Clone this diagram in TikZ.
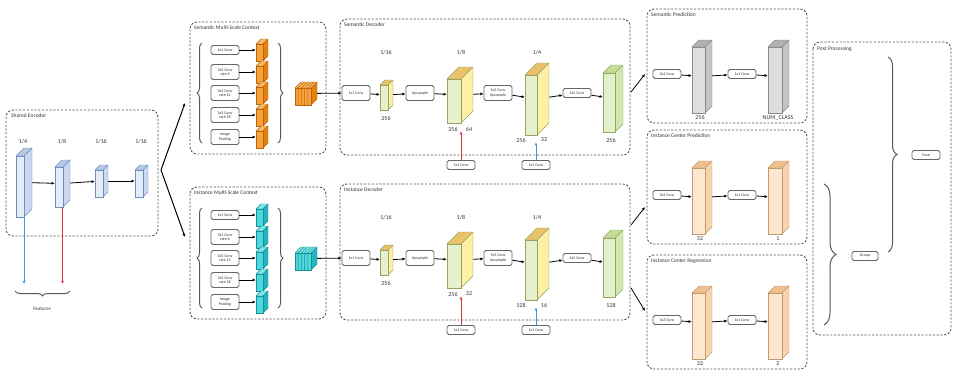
\documentclass[tikz,border=0pt]{standalone}
\usepackage{fontspec}
\setmainfont{Carlito}
\usetikzlibrary{arrows.meta,decorations.pathreplacing,fit,calc}

% colour sets for the feature-map slabs: F front, S side, T top, E edge
\definecolor{encF}{HTML}{E4ECF7}\definecolor{encS}{HTML}{C9D8EE}\definecolor{encT}{HTML}{B7C9E3}\definecolor{encE}{HTML}{6F8FBF}
\definecolor{orgF}{HTML}{F7A23C}\definecolor{orgS}{HTML}{E4820E}\definecolor{orgT}{HTML}{F9B865}\definecolor{orgE}{HTML}{B9650A}
\definecolor{cynF}{HTML}{4DD8DE}\definecolor{cynS}{HTML}{22B5BD}\definecolor{cynT}{HTML}{7EE6EA}\definecolor{cynE}{HTML}{178F96}
\definecolor{decF}{HTML}{E5F2CD}\definecolor{decS}{HTML}{FBF0A4}\definecolor{decT}{HTML}{E9C26A}\definecolor{decE}{HTML}{9AA064}
\definecolor{finF}{HTML}{E3F1CB}\definecolor{finS}{HTML}{CFE8AD}\definecolor{finT}{HTML}{C4DD95}\definecolor{finE}{HTML}{93A866}
\definecolor{gryF}{HTML}{DEDEDE}\definecolor{gryS}{HTML}{C4C4C4}\definecolor{gryT}{HTML}{B0B0B0}\definecolor{gryE}{HTML}{8A8A8A}
\definecolor{pchF}{HTML}{FDE7CF}\definecolor{pchS}{HTML}{F8D4AC}\definecolor{pchT}{HTML}{EFC08E}\definecolor{pchE}{HTML}{C29A70}
\definecolor{ink}{HTML}{333333}
\definecolor{frame}{HTML}{555555}
\definecolor{skipred}{HTML}{E0303F}
\definecolor{skipblue}{HTML}{4A8FDB}

\tikzset{
  panel/.style={draw=frame, line width=0.9pt, dash pattern=on 2.2pt off 1.6pt, rounded corners=7pt},
  ptitle/.style={anchor=west, inner sep=0pt, font=\fontsize{5.5}{6}\selectfont, text=ink},
  op/.style={draw=black!60, line width=0.9pt, rounded corners=1.8pt, fill=white,
    font=\fontsize{4}{4.4}\selectfont, text=ink, align=center, inner sep=0.5pt,
    minimum width=28pt, minimum height=9pt},
  op2/.style={op, minimum height=15pt},
  arr/.style={-{Latex[length=3.2pt,width=3pt]}, line width=0.8pt, draw=black},
  num/.style={font=\fontsize{6}{7}\selectfont, text=ink, inner sep=0pt},
  brc/.style={decorate, decoration={brace, amplitude=#1}, draw=black!65, line width=1pt},
  brc/.default=5pt,
}

% \slab{name}{x1}{y1}{x2}{y2}{depth}{colour set}
\newcommand{\slab}[7]{%
  \filldraw[draw=#7E, line width=0.4pt, fill=#7T, line join=round]
    (#2,#3+#6) -- (#2+#6,#3) -- (#4,#3) -- (#4-#6,#3+#6) -- cycle;
  \filldraw[draw=#7E, line width=0.4pt, fill=#7S, line join=round]
    (#4-#6,#3+#6) -- (#4,#3) -- (#4,#5-#6) -- (#4-#6,#5) -- cycle;
  \filldraw[draw=#7E, line width=0.4pt, fill=#7F] (#2,#3+#6) rectangle (#4-#6,#5);
  \node[fit={(#2,#3) (#4,#5)}, inner sep=0pt] (#1) {};
}

% multi-scale context block: prefix, title, colour set
\newcommand{\mscblock}[3]{%
  \draw[panel] (190,22) rectangle (326,154);
  \node[ptitle] (#1T) at (194,28) {#2};
  \draw[brc] (202,143) -- (202,43);
  \node[op]  (#1a) at (225,50)  {1x1 Conv};
  \node[op2] (#1b) at (225,72)  {3x3 Conv\\rate 6};
  \node[op2] (#1c) at (225,93)  {3x3 Conv\\rate 12};
  \node[op2] (#1d) at (225,115) {3x3 Conv\\rate 18};
  \node[op2] (#1e) at (225,137) {Image\\Pooling};
  \slab{#1s1}{256}{39}{268}{61}{5}{#3}
  \slab{#1s2}{256}{61}{268}{83}{5}{#3}
  \slab{#1s3}{256}{82}{268}{104}{5}{#3}
  \slab{#1s4}{256}{104}{268}{126}{5}{#3}
  \slab{#1s5}{256}{126}{268}{148}{5}{#3}
  \foreach \o/\s in {a/s1,b/s2,c/s3,d/s4,e/s5}
    \draw[arr] (#1\o) -- (#1\s);
  \draw[brc] (278,43) -- (278,143);
  \slab{#1cat}{295}{82}{317}{105}{6}{#3}
  \foreach \k in {1,2,3,4}
    \draw[#3E, line width=0.5pt] (295+\k*3.2,105) -- (295+\k*3.2,88) -- (301+\k*3.2,82);
}

% decoder block: prefix, title, labels of the three concatenated maps
\newcommand{\decblock}[7]{%
  \draw[panel] (340,19) rectangle (630,155);
  \node[ptitle] (#1T) at (344,25) {#2};
  \node[op2] (#1o1) at (356,93) {1x1 Conv};
  \slab{#1d1}{380}{80}{393}{110}{5}{dec}
  \node[op2] (#1o2) at (420,93) {Upsample};
  \slab{#1d2}{447}{67}{473}{123}{12}{dec}
  \node[op2] (#1o3) at (498,93) {5x5 Conv\\Upsample};
  \slab{#1d3}{525}{63}{549}{135}{12}{dec}
  \node[op]  (#1o4) at (577,93) {5x5 Conv};
  \slab{#1d4}{603}{65}{623}{132}{8}{fin}
  \node[num] (#1f1) at (386,53) {1/16};
  \node[num] (#1f2) at (461,53) {1/8};
  \node[num] (#1f3) at (537,53) {1/4};
  \node[num] (#1n1) at (386,118) {256};
  \node[num] (#1n2) at (453,129) {#3};
  \node[num] (#1n3) at (469,129) {#4};
  \node[num] (#1n4) at (521,140) {#5};
  \node[num] (#1n5) at (544,140) {#6};
  \node[num] (#1n6) at (611,140) {#7};
  \draw[arr] (#1o1) -- (#1d1);
  \draw[arr] (#1d1) -- (#1o2);
  \draw[arr] (#1o2) -- (#1d2);
  \draw[arr] (#1d2) -- (#1o3);
  \draw[arr] (#1o3) -- (#1d3);
  \draw[arr] (#1d3) -- (#1o4);
  \draw[arr] (#1o4) -- (#1d4);
  \node[op] (#1r) at (461,165) {1x1 Conv};
  \node[op] (#1b) at (536,165) {1x1 Conv};
  \draw[arr, draw=skipred] (#1r.north) -- (#1r.north |- #1n2.south);
  \draw[arr, draw=skipblue] (#1b.north) -- (#1b.north |- #1n4.south);
}

% prediction head: prefix, title, top of panel, colour set, labels
\newcommand{\predblock}[6]{%
  \begin{scope}[shift={(0,#3)}]
    \draw[panel] (647,0) rectangle (807,114);
    \node[ptitle] (#1T) at (651,6) {#2};
    \node[op] (#1o1) at (667,65) {3x3 Conv};
    \slab{#1p1}{692}{31}{712}{104}{7}{#4}
    \node[op] (#1o2) at (742,65) {1x1 Conv};
    \slab{#1p2}{768}{31}{789}{104}{7}{#4}
    \node[num] (#1n1) at (700,108.5) {#5};
    \node[num] (#1n2) at (778,108.5) {#6};
    \draw[arr] (#1o1) -- (#1p1);
    \draw[arr] (#1p1) -- (#1o2);
    \draw[arr] (#1o2) -- (#1p2);
  \end{scope}
}

\begin{document}
\begin{tikzpicture}[x=1pt,y=-1pt]
\useasboundingbox (0,0) rectangle (953,375);

% ---------------- shared encoder ----------------
\draw[panel] (6,110) rectangle (158,236);
\node[ptitle] (encT) at (11,116) {Shared Encoder};
\slab{e1}{16}{148}{32}{217}{8}{enc}
\slab{e2}{55}{160}{70}{207}{7}{enc}
\slab{e3}{95}{165}{108}{197}{5}{enc}
\slab{e4}{135}{165}{148}{197}{5}{enc}
\node[num] (e1l) at (23,142) {1/4};
\node[num] (e2l) at (62,142) {1/8};
\node[num] (e3l) at (101,142) {1/16};
\node[num] (e4l) at (141,142) {1/16};
\draw[arr] (e1) -- (e2);
\draw[arr] (e2) -- (e3);
\draw[arr] (e3) -- (e4);
\coordinate (lowB) at (24,284);
\coordinate (lowR) at (62.5,284);
\draw[arr, draw=skipblue] (e1.south) -- (lowB);
\draw[arr, draw=skipred] (e2.south) -- (lowR);
\draw[brc] (70,291) -- (15,291);
\node[num, font=\fontsize{5}{6}\selectfont] (feat) at (42,309) {Features};

% split towards the two branches
\coordinate (split) at (161,170);
\coordinate (semIn) at (185,103);
\coordinate (insIn) at (185,237);
\draw[arr, line width=1pt] (split) -- (semIn);
\draw[arr, line width=1pt] (split) -- (insIn);

% ---------------- multi-scale context ----------------
\mscblock{sm}{Semantic Multi-Scale Context}{org}
\begin{scope}[shift={(0,165)}]
  \mscblock{im}{Instance Multi-Scale Context}{cyn}
\end{scope}

% ---------------- decoders ----------------
\decblock{sd}{Semantic Decoder}{256}{64}{256}{32}{256}
\begin{scope}[shift={(0,165)}]
  \decblock{id}{Instance Decoder}{256}{32}{128}{16}{128}
\end{scope}
\draw[arr] (smcat) -- (sdo1);
\draw[arr] (imcat) -- (ido1);

% ---------------- prediction heads ----------------
\predblock{sp}{Semantic Prediction}{9}{gry}{256}{NUM\_CLASS}
\predblock{cp}{Instance Center Prediction}{130}{pch}{32}{1}
\predblock{rp}{Instance Center Regression}{255}{pch}{32}{2}

\coordinate (semOut) at (631,92);
\coordinate (semHd) at (645,74);
\coordinate (insOutA) at (631,225);
\coordinate (insHdA) at (645,207);
\coordinate (insOutB) at (631,288);
\coordinate (insHdB) at (645,311);
\draw[arr] (semOut) -- (semHd);
\draw[arr] (insOutA) -- (insHdA);
\draw[arr] (insOutB) -- (insHdB);

% ---------------- post processing ----------------
\draw[panel] (813,42) rectangle (951,335);
\node[ptitle] (ppT) at (817,49) {Post Processing};
\draw[brc=9pt] (888,57) -- (888,252);
\draw[brc=12pt] (824,184) -- (824,325);
\node[op] (fuse) at (926,155) {Fuse};
\node[op, minimum width=26pt] (group) at (865,256) {Group};
\end{tikzpicture}
\end{document}
